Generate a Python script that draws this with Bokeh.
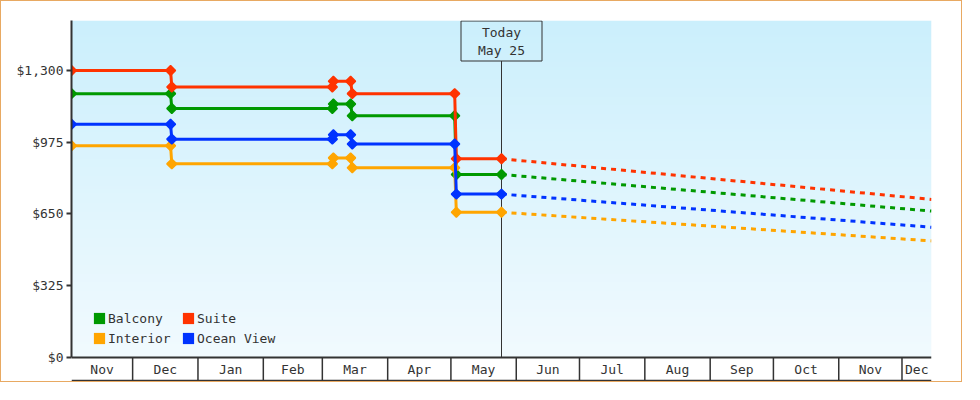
import numpy as np
import pandas as pd
from bokeh.plotting import figure
from bokeh.models import Range1d, FixedTicker, NumeralTickFormatter, Legend, LegendItem
from bokeh.core.properties import value
from bokeh.embed import file_html
from bokeh.resources import INLINE

# ---------------- data ----------------
series_names = ["Balcony", "Suite", "Interior", "Ocean View"]
series_colors = ["#009900", "#ff3300", "#ffa500", "#0033ff"]
legend_order = ["Balcony", "Interior", "Suite", "Ocean View"]

obs_dates = ["2018-11-02 00:00", "2018-12-19 00:00", "2018-12-19 14:00",
             "2019-03-05 18:00", "2019-03-06 06:00", "2019-03-14 10:00",
             "2019-03-15 05:00", "2019-05-02 19:00", "2019-05-03 14:00",
             "2019-05-25 00:00"]
balcony_prices = [1195, 1195, 1128, 1128, 1148, 1148, 1095, 1095, 829, 829]
suite_prices = [1300, 1300, 1225, 1225, 1251, 1251, 1195, 1195, 900, 900]
interior_prices = [959, 959, 877, 877, 904, 904, 859, 859, 658, 658]
ocean_view_prices = [1056, 1056, 989, 989, 1009, 1009, 967, 967, 740, 740]

forecast_dates = ["2019-05-25", "2019-12-15"]
balcony_forecast = [829, 663]
suite_forecast = [900, 716]
interior_forecast = [658, 528]
ocean_view_forecast = [740, 590]

y_ticks = [0, 325, 650, 975, 1300]
month_labels = ["Nov", "Dec", "Jan", "Feb", "Mar", "Apr", "May", "Jun",
                "Jul", "Aug", "Sep", "Oct", "Nov", "Dec"]
first_month = "2018-11-01"
today = "2019-05-25"
today_text = "Today\nMay 25"

# ---------------- layout ----------------
W, H = 962, 382
B_LEFT, B_RIGHT, B_TOP, B_BOTTOM = 70, 32, 19, 1
frame_h = H - B_TOP - B_BOTTOM
zero_px = 337          # px from frame top to value 0
band_px = 23           # height of month band
px_per_unit = 0.2208
Y1 = zero_px / px_per_unit
Y0 = -(frame_h - zero_px) / px_per_unit
y_per_px = 1 / px_per_unit
band_bottom = -band_px * y_per_px
x_start = pd.Timestamp("2018-11-02")
x_end = pd.Timestamp("2019-12-15")

FONT = "DejaVu Sans Mono"
TXT = "#333333"

p = figure(width=W, height=H, x_axis_type="datetime",
           x_range=Range1d(x_start, x_end), y_range=Range1d(Y0, Y1),
           output_backend="svg", toolbar_location=None,
           min_border_left=B_LEFT, min_border_right=B_RIGHT,
           min_border_top=B_TOP, min_border_bottom=B_BOTTOM,
           background_fill_color="white", border_fill_color="white")
p.styles = {"border": "1px solid #e8a962"}
p.xaxis.visible = False
p.grid.visible = False
p.outline_line_color = None

# gradient background
rows = 256
t = np.linspace(0, 1, rows)
top_c = np.array([203, 239, 252], dtype=float)
bot_c = np.array([241, 250, 254], dtype=float)
img = np.empty((rows, 1), dtype=np.uint32)
view = img.view(dtype=np.uint8).reshape((rows, 1, 4))
for k in range(3):
    view[:, 0, k] = np.round(bot_c[k] + (top_c[k] - bot_c[k]) * t).astype(np.uint8)
view[:, 0, 3] = 255
x0_ms = x_start.value / 1e6
x1_ms = x_end.value / 1e6
p.image_rgba(image=[img], x=x0_ms, y=0, dw=x1_ms - x0_ms, dh=Y1)

# y axis
ax = p.yaxis[0]
ax.ticker = FixedTicker(ticks=y_ticks)
ax.formatter = NumeralTickFormatter(format="$0,0")
ax.bounds = (0, Y1)
ax.axis_line_color = TXT
ax.axis_line_width = 2
ax.major_tick_line_color = TXT
ax.major_tick_line_width = 2
ax.major_tick_out = 5
ax.major_tick_in = 0
ax.minor_tick_line_color = None
ax.major_label_text_font = FONT
ax.major_label_text_font_size = "13px"
ax.major_label_text_color = TXT
ax.major_label_standoff = 3

# month band (x axis)
bounds = pd.date_range(first_month, periods=len(month_labels) + 1, freq="MS")
lefts = [max(b, x_start) for b in bounds[:-1]]
rights = [min(b, x_end) for b in bounds[1:]]
centers = [l + (r - l) / 2 for l, r in zip(lefts, rights)]
seps = [b for b in bounds if x_start < b < x_end]
p.segment(x0=seps, y0=[0] * len(seps), x1=seps, y1=[band_bottom] * len(seps),
          line_color=TXT, line_width=1.5)
p.segment(x0=[x_start], y0=[0], x1=[x_end], y1=[0], line_color=TXT, line_width=2)
p.segment(x0=[x_start], y0=[band_bottom], x1=[x_end], y1=[band_bottom],
          line_color=TXT, line_width=1.5)
p.text(x=centers, y=[band_bottom / 2] * len(centers), text=month_labels,
       text_font=value(FONT), text_font_size="13px", text_color=TXT,
       text_align="center", text_baseline="middle")

# today marker
today_ts = pd.Timestamp(today)
box_bottom = Y1 - 40.5 * y_per_px
p.segment(x0=[today_ts], y0=[0], x1=[today_ts], y1=[box_bottom], line_color=TXT, line_width=1)
p.rect(x=[today_ts], y=[Y1 - 20.5 * y_per_px], width=81, height=40,
       width_units="screen", height_units="screen",
       fill_alpha=0, line_color=TXT, line_width=1)
today_lines = today_text.split("\n")
p.text(x=[today_ts] * len(today_lines),
       y=[Y1 - (12 + 18 * i) * y_per_px for i in range(len(today_lines))],
       text=today_lines,
       text_font=value(FONT), text_font_size="13px", text_color=TXT,
       text_align="center", text_baseline="middle")

# series
all_prices = [balcony_prices, suite_prices, interior_prices, ocean_view_prices]
all_fc = [balcony_forecast, suite_forecast, interior_forecast, ocean_view_forecast]
od = pd.to_datetime(obs_dates)
fd = pd.to_datetime(forecast_dates)
legend_rs = {}
for name, color, prices, fc in zip(series_names, series_colors, all_prices, all_fc):
    p.line(fd, fc, line_color=color, line_width=3, line_dash="5 5")
    p.line(od, prices, line_color=color, line_width=3)
    p.scatter(od, prices, marker="square", angle=np.pi / 4, size=7,
              fill_color=color, line_color=color, line_width=1.5)
    legend_rs[name] = p.quad(left=[np.nan], right=[np.nan], top=[np.nan], bottom=[np.nan],
                             fill_color=color, line_color=None)

legend = Legend(items=[LegendItem(label=n, renderers=[legend_rs[n]]) for n in legend_order],
                location=(21, 34), ncols=2, padding=0, margin=0, spacing=0,
                glyph_width=14, glyph_height=14, label_standoff=2,
                label_width=73, label_height=20,
                label_text_font=FONT, label_text_font_size="13px",
                label_text_color=TXT, border_line_color=None,
                background_fill_alpha=0)
p.add_layout(legend)

open("out.html", "w").write(file_html(p, INLINE))
